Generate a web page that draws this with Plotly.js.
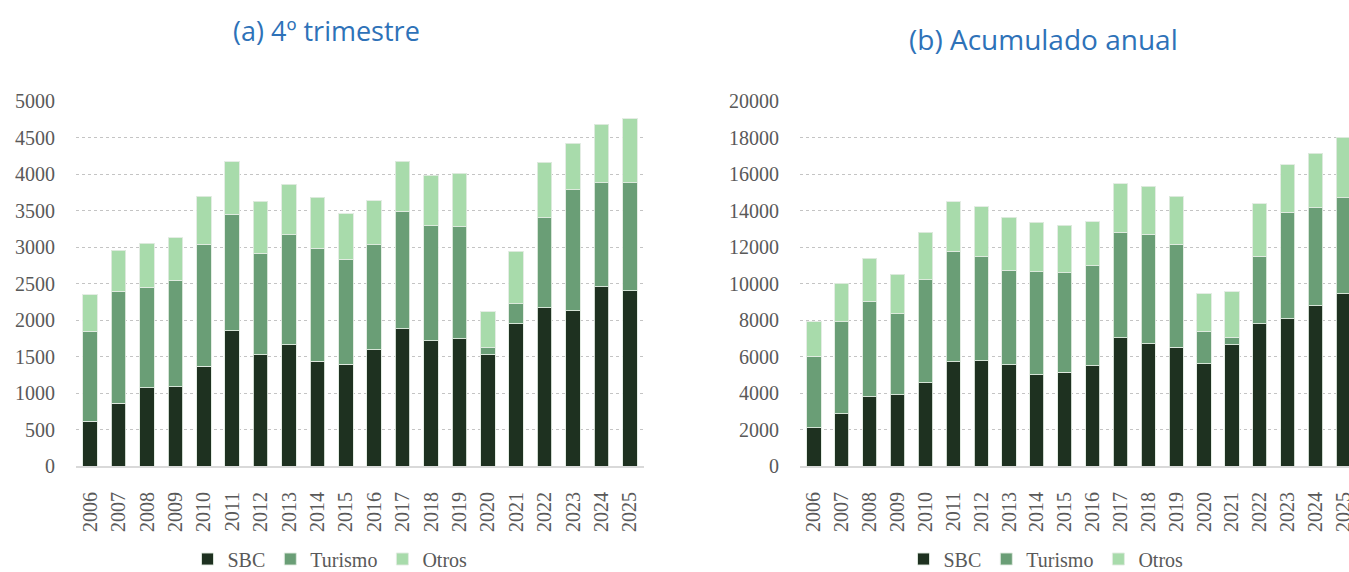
<!DOCTYPE html>
<html>
<head>
<meta charset="utf-8">
<script src="https://cdn.plot.ly/plotly-3.0.1.min.js"></script>
<style>
html,body{margin:0;padding:0;background:#fff;overflow:hidden;}
#chart{width:1349px;height:600px;}
</style>
</head>
<body>
<div id="chart"></div>
<script>
// ---- Data ----
const years = ["2006","2007","2008","2009","2010","2011","2012","2013","2014","2015",
               "2016","2017","2018","2019","2020","2021","2022","2023","2024","2025"];

// (a) 4º trimestre
const sbcQ4     = [612, 859, 1069, 1083, 1367, 1851, 1527, 1659, 1435, 1394,
                   1590, 1878, 1714, 1741, 1522, 1947, 2166, 2125, 2454, 2399];
const turismoQ4 = [1234, 1536, 1381, 1463, 1672, 1600, 1389, 1508, 1549, 1440,
                   1440, 1614, 1577, 1536, 96, 274, 1234, 1659, 1426, 1481];
const otrosQ4   = [499, 562, 603, 580, 654, 717, 713, 695, 695, 621,
                   603, 685, 694, 736, 498, 718, 759, 636, 800, 878];

// (b) Acumulado anual
const sbcYr     = [2084, 2870, 3784, 3894, 4570, 5722, 5777, 5539, 4991, 5137,
                   5503, 7020, 6691, 6508, 5594, 6636, 7788, 8062, 8775, 9452];
const turismoYr = [3931, 5028, 5247, 4442, 5631, 6051, 5686, 5192, 5649, 5448,
                   5466, 5795, 6015, 5649, 1792, 421, 3711, 5850, 5375, 5246];
const otrosYr   = [1883, 2120, 2358, 2176, 2596, 2706, 2742, 2907, 2724, 2596,
                   2413, 2651, 2614, 2614, 2066, 2486, 2870, 2596, 2998, 3309];

const seriesNames = ["SBC", "Turismo", "Otros"];
const colors = ["#1e3120", "#6a9e76", "#a8dbab"];

// ---- Layout helpers ----
const W = 1349, H = 600;
const px = v => v / W;
const py = v => (H - v) / H;
const tickFont = {family: "Liberation Serif, Times New Roman, serif", size: 20, color: "#595959"};
const legendFont = {family: "Liberation Serif, Times New Roman, serif", size: 20, color: "#595959"};
const titleFontA = {family: "Open Sans, sans-serif", size: 27, color: "#2e72b8", weight: 500};
const titleFontB = {family: "Open Sans, sans-serif", size: 28, color: "#2e72b8", weight: 500};

function mk(name, y, color, xa, ya, leg) {
  return {
    type: "bar", name: name, x: years, y: y, xaxis: xa, yaxis: ya,
    legend: leg,
    marker: {color: color, line: {color: "rgba(225,235,225,0.9)", width: 1}},
    hoverinfo: "x+y+name"
  };
}

const data = [
  mk(seriesNames[0], sbcQ4, colors[0], "x", "y", "legend"),
  mk(seriesNames[1], turismoQ4, colors[1], "x", "y", "legend"),
  mk(seriesNames[2], otrosQ4, colors[2], "x", "y", "legend"),
  mk(seriesNames[0], sbcYr, colors[0], "x2", "y2", "legend2"),
  mk(seriesNames[1], turismoYr, colors[1], "x2", "y2", "legend2"),
  mk(seriesNames[2], otrosYr, colors[2], "x2", "y2", "legend2")
];

const yDom = [py(466), py(101)];
const xCommon = {
  type: "category", tickangle: -90, tickfont: tickFont, showgrid: false,
  showline: true, linecolor: "#d9d9d9", linewidth: 2, ticks: "", ticklabelstandoff: 16,
  fixedrange: true
};
const yCommon = {
  showgrid: true, gridcolor: "#c4c4c4", griddash: "dot", gridwidth: 1,
  zeroline: false, showline: false, ticks: "", tickfont: tickFont, tickformat: "d",
  ticklabelstandoff: 20, fixedrange: true
};

const layout = {
  width: W, height: H,
  margin: {l: 0, r: 0, t: 0, b: 0},
  paper_bgcolor: "#fff", plot_bgcolor: "#fff",
  barmode: "stack", bargap: 0.49,
  showlegend: true,
  xaxis: Object.assign({}, xCommon, {domain: [px(76), px(644)], range: [-0.5, 19.5], anchor: "y"}),
  yaxis: Object.assign({}, yCommon, {domain: yDom, range: [0, 5000], dtick: 500, anchor: "x"}),
  xaxis2: Object.assign({}, xCommon, {domain: [px(800), 1], range: [-0.5, 19.2], anchor: "y2"}),
  yaxis2: Object.assign({}, yCommon, {domain: yDom, range: [0, 20000], dtick: 2000, anchor: "x2"}),
  legend: {orientation: "h", x: px(330), xanchor: "center", y: py(559), yanchor: "middle",
           font: legendFont, traceorder: "normal", bgcolor: "rgba(0,0,0,0)"},
  legend2: {orientation: "h", x: px(1046), xanchor: "center", y: py(559), yanchor: "middle",
           font: legendFont, traceorder: "normal", bgcolor: "rgba(0,0,0,0)"},
  annotations: [
    {text: "(a) 4º trimestre", xref: "paper", yref: "paper", x: px(326), y: py(31),
     xanchor: "center", yanchor: "middle", showarrow: false, font: titleFontA},
    {text: "(b) Acumulado anual", xref: "paper", yref: "paper", x: px(1043), y: py(39),
     xanchor: "center", yanchor: "middle", showarrow: false, font: titleFontB}
  ]
};

Plotly.newPlot("chart", data, layout, {displayModeBar: false, responsive: false});
</script>
</body>
</html>
